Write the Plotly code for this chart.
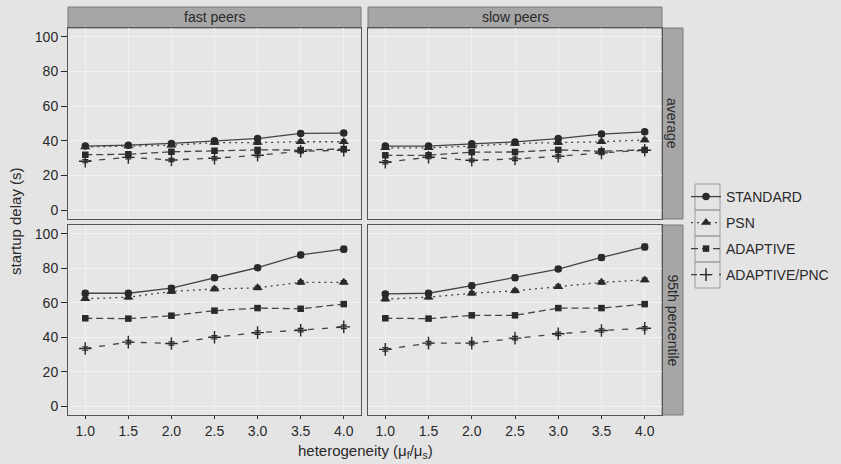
import plotly.graph_objects as go

W, H = 841, 464

x_vals = [1.0, 1.5, 2.0, 2.5, 3.0, 3.5, 4.0]
x_ticks = [1.0, 1.5, 2.0, 2.5, 3.0, 3.5, 4.0]
x_tick_labels = ["1.0", "1.5", "2.0", "2.5", "3.0", "3.5", "4.0"]
y_ticks = [0, 20, 40, 60, 80, 100]

series_names = ["STANDARD", "PSN", "ADAPTIVE", "ADAPTIVE/PNC"]
col_labels = ["fast peers", "slow peers"]
row_labels = ["average", "95th percentile"]

# fast peers, average
fast_avg_standard = [37.0, 37.5, 38.5, 40.0, 41.3, 44.3, 44.5]
fast_avg_psn = [36.5, 37.0, 37.5, 39.0, 39.0, 39.5, 39.5]
fast_avg_adaptive = [32.0, 32.3, 33.7, 34.3, 34.8, 34.7, 35.3]
fast_avg_pnc = [28.3, 30.5, 29.0, 30.0, 31.7, 34.0, 34.6]
# slow peers, average
slow_avg_standard = [37.0, 37.0, 38.3, 39.4, 41.3, 43.9, 45.2]
slow_avg_psn = [36.0, 36.0, 37.0, 38.5, 39.0, 39.5, 40.5]
slow_avg_adaptive = [31.7, 31.7, 33.5, 33.6, 34.8, 34.0, 34.8]
slow_avg_pnc = [27.7, 30.6, 28.8, 29.6, 31.1, 33.1, 34.6]
# fast peers, 95th percentile
fast_p95_standard = [65.5, 65.5, 68.4, 74.5, 80.3, 87.7, 91.0]
fast_p95_psn = [62.3, 63.2, 66.5, 68.0, 68.6, 71.8, 71.8]
fast_p95_adaptive = [51.0, 50.8, 52.5, 55.4, 56.9, 56.5, 59.2]
fast_p95_pnc = [33.5, 37.2, 36.4, 40.0, 42.7, 44.1, 46.0]
# slow peers, 95th percentile
slow_p95_standard = [65.1, 65.5, 69.9, 74.5, 79.5, 86.2, 92.3]
slow_p95_psn = [62.1, 63.2, 65.5, 66.9, 69.3, 71.8, 73.2]
slow_p95_adaptive = [51.0, 50.8, 52.7, 52.7, 56.9, 56.9, 59.2]
slow_p95_pnc = [33.0, 36.6, 36.6, 39.5, 42.0, 43.9, 45.2]

# error bar half-widths
err_avg_standard = [1.0, 1.0, 1.0, 1.2, 1.2, 1.2, 1.2]
err_avg_other = [0.9, 0.9, 0.9, 1.0, 1.0, 1.0, 1.0]
err_p95_standard = [1.2, 1.2, 1.5, 1.5, 1.2, 1.5, 1.6]
err_p95_other = [1.0, 1.0, 1.0, 1.0, 1.0, 1.0, 1.0]

panels = {
    (0, 0): [fast_avg_standard, fast_avg_psn, fast_avg_adaptive, fast_avg_pnc],
    (0, 1): [slow_avg_standard, slow_avg_psn, slow_avg_adaptive, slow_avg_pnc],
    (1, 0): [fast_p95_standard, fast_p95_psn, fast_p95_adaptive, fast_p95_pnc],
    (1, 1): [slow_p95_standard, slow_p95_psn, slow_p95_adaptive, slow_p95_pnc],
}
panel_errors = {
    0: [err_avg_standard, err_avg_other, err_avg_other, err_avg_other],
    1: [err_p95_standard, err_p95_other, err_p95_other, err_p95_other],
}

line_dash = ["solid", "2px,4px", "7px,4px", "6px,8px"]
marker_sym = ["circle", "triangle-up", "square", "cross-thin"]
marker_size = [7.5, 9, 6.5, 9]

INK = "#2a2a2a"
LINE = "#444444"
BG = "#e4e4e4"
PANEL_BG = "#e6e6e6"
GRID = "#f1f1f1"
STRIP = "#a6a6a6"
STRIP_LINE = "#7a7a7a"
FONT = "Liberation Sans, Arial, sans-serif"

def px_x(p):
    return p / W

def px_y(p):
    return 1 - p / H

col_dom = [(px_x(68), px_x(361)), (px_x(368), px_x(662))]
row_dom = [(px_y(219), px_y(28)), (px_y(415), px_y(225))]

fig = go.Figure()

legend_keys = ["legend", "legend2", "legend3", "legend4"]

for (r, c), ys in panels.items():
    idx = r * 2 + c + 1
    xa = "x" if idx == 1 else f"x{idx}"
    ya = "y" if idx == 1 else f"y{idx}"
    for k, name in enumerate(series_names):
        fig.add_trace(go.Scatter(
            x=x_vals, y=ys[k], name=name, mode="lines+markers",
            xaxis=xa, yaxis=ya,
            line=dict(color=LINE, width=1.3, dash=line_dash[k]),
            marker=dict(symbol=marker_sym[k], size=marker_size[k], color=INK,
                        line=dict(color=INK, width=1.4 if k == 3 else 0)),
            error_y=dict(type="data", array=panel_errors[r][k], visible=True,
                         color=INK, thickness=1.2, width=3),
            showlegend=(r == 0 and c == 0),
            legend=legend_keys[k],
        ))

layout = dict(
    width=W, height=H,
    margin=dict(l=0, r=0, t=0, b=0),
    paper_bgcolor=BG, plot_bgcolor=PANEL_BG,
    font=dict(family=FONT, size=14, color=INK),
)

for r in range(2):
    for c in range(2):
        idx = r * 2 + c + 1
        xk = "xaxis" if idx == 1 else f"xaxis{idx}"
        yk = "yaxis" if idx == 1 else f"yaxis{idx}"
        ya = "y" if idx == 1 else f"y{idx}"
        xa = "x" if idx == 1 else f"x{idx}"
        layout[xk] = dict(
            domain=list(col_dom[c]), anchor=ya, range=[0.8, 4.2],
            tickvals=x_ticks, ticktext=x_tick_labels,
            showticklabels=(r == 1), ticks="outside" if r == 1 else "",
            ticklen=3, tickcolor=INK, tickfont=dict(size=14, color=INK),
            showgrid=True, gridcolor=GRID, gridwidth=1, zeroline=False,
            showline=True, linecolor="#555555", linewidth=1, mirror=True,
        )
        layout[yk] = dict(
            domain=list(row_dom[r]), anchor=xa, range=[-5, 105],
            tickvals=y_ticks, showticklabels=(c == 0),
            ticks="outside" if c == 0 else "",
            ticklen=6, tickcolor=INK, tickfont=dict(size=14, color=INK),
            showgrid=True, gridcolor=GRID, gridwidth=1, zeroline=False,
            showline=True, linecolor="#555555", linewidth=1, mirror=True,
        )

# separate legends, one per key cell
cell_tops = [184, 210, 236, 262]
cell_h = 26
for k, lk in enumerate(legend_keys):
    layout[lk] = dict(
        x=px_x(686), xanchor="left",
        y=px_y(cell_tops[k] + cell_h / 2), yanchor="middle",
        bgcolor="rgba(0,0,0,0)", borderwidth=0,
        font=dict(size=14, color=INK, family=FONT),
    )

shapes = []
annotations = []
# top strips
for c in range(2):
    shapes.append(dict(type="rect", xref="paper", yref="paper",
                       x0=col_dom[c][0], x1=col_dom[c][1],
                       y0=px_y(28), y1=px_y(7),
                       fillcolor=STRIP, line=dict(color=STRIP_LINE, width=1), layer="below"))
    annotations.append(dict(text=col_labels[c], xref="paper", yref="paper",
                            x=(col_dom[c][0] + col_dom[c][1]) / 2, y=(px_y(28) + px_y(7)) / 2,
                            showarrow=False, font=dict(size=14, color=INK),
                            xanchor="center", yanchor="middle"))
# right strips
for r in range(2):
    shapes.append(dict(type="rect", xref="paper", yref="paper",
                       x0=px_x(662), x1=px_x(683),
                       y0=row_dom[r][0], y1=row_dom[r][1],
                       fillcolor=STRIP, line=dict(color=STRIP_LINE, width=1), layer="below"))
    annotations.append(dict(text=row_labels[r], xref="paper", yref="paper",
                            x=(px_x(662) + px_x(683)) / 2, y=(row_dom[r][0] + row_dom[r][1]) / 2,
                            showarrow=False, textangle=90, font=dict(size=14, color=INK),
                            xanchor="center", yanchor="middle"))
# legend key cells
for k in range(4):
    shapes.append(dict(type="rect", xref="paper", yref="paper",
                       x0=px_x(695), x1=px_x(720),
                       y0=px_y(cell_tops[k] + cell_h), y1=px_y(cell_tops[k]),
                       fillcolor="rgba(0,0,0,0)", line=dict(color="#9a9a9a", width=1)))

# axis titles
annotations.append(dict(text="heterogeneity (μ<sub>f</sub>/μ<sub>s</sub>)", xref="paper", yref="paper",
                        x=px_x(365), y=px_y(451), showarrow=False,
                        font=dict(size=15, color=INK), xanchor="center", yanchor="middle"))
annotations.append(dict(text="startup delay (s)", xref="paper", yref="paper",
                        x=px_x(16), y=px_y(221), showarrow=False, textangle=-90,
                        font=dict(size=15, color=INK), xanchor="center", yanchor="middle"))

layout["shapes"] = shapes
layout["annotations"] = annotations
fig.update_layout(**layout)

fig.write_html("out.html")
